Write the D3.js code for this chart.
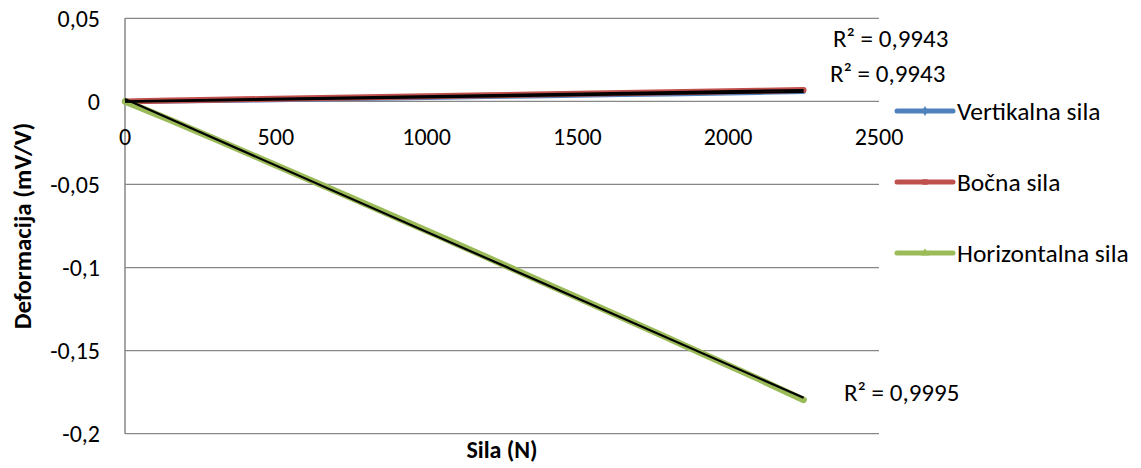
<!DOCTYPE html>
<html>
<head>
<meta charset="utf-8">
<script src="https://cdn.jsdelivr.net/npm/d3@7"></script>
<style>
  body { margin: 0; background: #fff; }
  svg { display: block; font-family: Carlito, Calibri, Lato, sans-serif; }
</style>
</head>
<body>
<svg id="chart" width="1141" height="468"></svg>
<script>
// Force (N) sample points
const sila = [0, 150, 300, 450, 600, 750, 900, 1050, 1200, 1350, 1500, 1650, 1800, 1950, 2100, 2250];

// Deformation (mV/V) per series
const vertikalna = [0, 0.0002, 0.0006, 0.0009, 0.0013, 0.0017, 0.0021, 0.0025, 0.0029, 0.0033, 0.0037, 0.0041, 0.0045, 0.0049, 0.0054, 0.0059];
const bocna = [0, 0.0005, 0.0010, 0.0014, 0.0019, 0.0023, 0.0028, 0.0032, 0.0037, 0.0041, 0.0046, 0.0050, 0.0055, 0.0059, 0.0064, 0.0068];
const horizontalna = [0, -0.0112, -0.0228, -0.0345, -0.0462, -0.0580, -0.0699, -0.0818, -0.0938, -0.1060, -0.1180, -0.1302, -0.1424, -0.1547, -0.1670, -0.1797];

const seriesNames = ["Vertikalna sila", "Bočna sila", "Horizontalna sila"];
const r2Labels = ["R² = 0,9943", "R² = 0,9943", "R² = 0,9995"];
const xTicks = [0, 500, 1000, 1500, 2000, 2500];
const yTicks = [0.05, 0, -0.05, -0.1, -0.15, -0.2];

const colors = ["#4F81BD", "#C0504D", "#9BBB59"];
const widths = [5, 6, 6.5];

const margin = { top: 18.3, left: 125, right: 262, bottom: 34.3 },
  W = 1141, H = 468;

const svg = d3.select("#chart");

const x = d3.scaleLinear().domain([0, 2500]).range([margin.left, W - margin.right]);
const y = d3.scaleLinear().domain([-0.2, 0.05]).range([H - margin.bottom, margin.top]);

const fmt = v => String(v).replace(".", ",");

// gridlines
svg.append("g")
  .selectAll("line")
  .data(yTicks)
  .join("line")
  .attr("x1", x(0)).attr("x2", x(2500))
  .attr("y1", d => y(d)).attr("y2", d => y(d))
  .attr("stroke", "#878787")
  .attr("stroke-width", 1.2);

// y axis line
svg.append("line")
  .attr("x1", x(0)).attr("x2", x(0))
  .attr("y1", y(0.05)).attr("y2", y(-0.2))
  .attr("stroke", "#878787")
  .attr("stroke-width", 1.5);

// y tick labels
svg.append("g")
  .selectAll("text")
  .data(yTicks)
  .join("text")
  .attr("x", 100)
  .attr("y", d => y(d))
  .attr("dy", "0.35em")
  .attr("text-anchor", "end")
  .style("font-size", "24px")
  .style("fill", "#000")
  .text(fmt);

// x tick labels (sit under the zero line)
svg.append("g")
  .selectAll("text")
  .data(xTicks)
  .join("text")
  .attr("x", d => x(d))
  .attr("y", y(0) + 44)
  .attr("text-anchor", "middle")
  .style("font-size", "24px")
  .style("fill", "#000")
  .text(d => d);

// series
const allSeries = [vertikalna, bocna, horizontalna];
const line = d3.line().x(d => x(d[0])).y(d => y(d[1]));

allSeries.forEach((vals, i) => {
  svg.append("path")
    .datum(sila.map((s, j) => [s, vals[j]]))
    .attr("fill", "none")
    .attr("stroke", colors[i])
    .attr("stroke-width", widths[i])
    .attr("stroke-linecap", "round")
    .attr("stroke-linejoin", "round")
    .attr("d", line);
});

// linear trendlines (least squares from the data)
allSeries.forEach(vals => {
  const mx = d3.mean(sila), my = d3.mean(vals);
  const slope = d3.sum(sila, (s, j) => (s - mx) * (vals[j] - my)) / d3.sum(sila, s => (s - mx) * (s - mx));
  const icpt = my - slope * mx;
  const x0 = sila[0], x1 = sila[sila.length - 1];
  svg.append("line")
    .attr("x1", x(x0)).attr("y1", y(icpt + slope * x0))
    .attr("x2", x(x1)).attr("y2", y(icpt + slope * x1))
    .attr("stroke", "#000")
    .attr("stroke-width", 2.2);
});

// R² labels
const r2Pos = [[833, 38], [830, 73], [844, 392]];
svg.append("g")
  .selectAll("text")
  .data(r2Labels)
  .join("text")
  .attr("x", (d, i) => r2Pos[i][0])
  .attr("y", (d, i) => r2Pos[i][1])
  .attr("dy", "0.35em")
  .style("font-size", "25px")
  .style("fill", "#000")
  .text(d => d);

// legend
const legend = svg.append("g").attr("transform", "translate(897, 111)");
const markers = [d3.symbolDiamond, d3.symbolSquare, d3.symbolTriangle];
seriesNames.forEach((name, i) => {
  const g = legend.append("g").attr("transform", "translate(0," + i * 71 + ")");
  g.append("line")
    .attr("x1", 0).attr("x2", 56)
    .attr("stroke", colors[i])
    .attr("stroke-width", 5)
    .attr("stroke-linecap", "round");
  g.append("path")
    .attr("transform", "translate(28,0)")
    .attr("d", d3.symbol().type(markers[i]).size(30)())
    .attr("fill", colors[i]);
  g.append("text")
    .attr("x", 60)
    .attr("dy", "0.35em")
    .style("font-size", "25.5px")
    .style("fill", "#000")
    .text(name);
});

// axis titles
svg.append("text")
  .attr("x", (x(0) + x(2500)) / 2)
  .attr("y", 450)
  .attr("dy", "0.35em")
  .attr("text-anchor", "middle")
  .style("font-size", "24px")
  .style("font-weight", "bold")
  .text("Sila (N)");

svg.append("text")
  .attr("transform", "translate(22," + (y(0.05) + y(-0.2)) / 2 + ") rotate(-90)")
  .attr("dy", "0.35em")
  .attr("text-anchor", "middle")
  .style("font-size", "25px")
  .style("font-weight", "bold")
  .text("Deformacija (mV/V)");
</script>
</body>
</html>
